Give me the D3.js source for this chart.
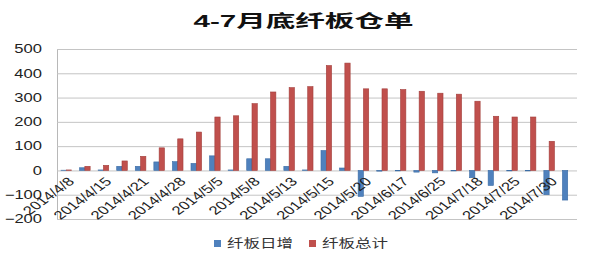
<!DOCTYPE html>
<html>
<head>
<meta charset="utf-8">
<script src="https://cdn.jsdelivr.net/npm/d3@7/dist/d3.min.js"></script>
<style>
  html, body { margin: 0; padding: 0; background: #fff; }
  svg { display: block; }
</style>
</head>
<body>
<div id="chart"></div>
<script>
// 数据
const dates = [
  "2014/4/8", "2014/4/11", "2014/4/15", "2014/4/18", "2014/4/21", "2014/4/24",
  "2014/4/28", "2014/4/30", "2014/5/5", "2014/5/6", "2014/5/8", "2014/5/9",
  "2014/5/13", "2014/5/14", "2014/5/15", "2014/5/16", "2014/5/20", "2014/6/10",
  "2014/6/17", "2014/6/20", "2014/6/25", "2014/7/10", "2014/7/18", "2014/7/22",
  "2014/7/25", "2014/7/28", "2014/7/30", "2014/7/31"
];
const dailyChange = [1, 11, 2, 17, 17, 35, 36, 29, 60, 2, 48, 48, 17, 2, 82, 10,
  -107, -3, -2, -7, -10, -2, -30, -62, -2, -2, -100, -122];
const totalStock = [2, 17, 21, 39, 58, 93, 130, 158, 220, 225, 275, 323, 341, 345,
  432, 442, 336, 336, 333, 326, 318, 314, 285, 223, 220, 220, 120, 0];
const seriesNames = ["纤板日增", "纤板总计"];
const yTicks = [-200, -100, 0, 100, 200, 300, 400, 500];
const title = "4-7月底纤板仓单";

const W = 591, H = 257;
const m = { left: 57, right: 14, top: 49, bottom: 38 };
const colors = ["#4f81bd", "#c0504d"];
const strokes = ["#3b6ca5", "#a23e3b"];
const STRETCH = 1.38; // 原图横向拉伸

const svg = d3.select("#chart").append("svg")
  .attr("width", W).attr("height", H)
  .style("font-family", "'Liberation Sans', Arial, 'Noto Sans CJK SC', sans-serif");

const x0 = d3.scaleBand().domain(dates)
  .range([m.left, W - m.right]).paddingInner(0.43).paddingOuter(0.215);
const x1 = d3.scaleBand().domain(seriesNames).range([0, x0.bandwidth()]).padding(0);
const y = d3.scaleLinear().domain([-200, 500]).range([H - m.bottom, m.top]);

// 网格线 + 纵轴
const gy = svg.append("g")
  .attr("transform", `translate(${m.left},0)`)
  .call(d3.axisLeft(y).tickValues(yTicks).tickSize(-(W - m.left - m.right)).tickPadding(15));
gy.select(".domain").attr("stroke", "#b8b8b8");
gy.selectAll(".tick line").attr("stroke", "#c4c4c4");
gy.selectAll(".tick text")
  .attr("fill", "#222").attr("font-size", 12)
  .each(function () {
    const len = this.getComputedTextLength();
    d3.select(this).attr("textLength", len * STRETCH).attr("lengthAdjust", "spacingAndGlyphs");
  });

// 柱子
const rows = dates.map((d, i) => ({ date: d, vals: [dailyChange[i], totalStock[i]] }));
const groups = svg.append("g").selectAll("g")
  .data(rows).enter().append("g")
  .attr("transform", d => `translate(${x0(d.date)},0)`);

groups.selectAll("rect")
  .data(d => d.vals.map((v, k) => ({ key: seriesNames[k], k, v })))
  .enter().append("rect")
  .attr("x", d => x1(d.key))
  .attr("width", x1.bandwidth())
  .attr("y", d => y(Math.max(0, d.v)))
  .attr("height", d => Math.abs(y(d.v) - y(0)))
  .attr("fill", d => colors[d.k])
  .attr("stroke", d => strokes[d.k])
  .attr("stroke-width", 0.6);

// 横轴标签（隔一个显示）
const gx = svg.append("g")
  .attr("transform", `translate(0,${y(0)})`)
  .call(d3.axisBottom(x0).tickSize(0)
    .tickFormat((d, i) => i % 2 === 0 ? d : ""));
gx.select(".domain").remove();
gx.selectAll(".tick text")
  .attr("fill", "#222").attr("font-size", 12)
  .attr("x", 0).attr("y", 0).attr("dy", "0.35em")
  .attr("text-anchor", "end")
  .attr("transform", `translate(5,9) scale(${STRETCH},1) rotate(-45)`);

// 标题
svg.append("text")
  .attr("x", W / 2 + 8).attr("y", 27)
  .attr("text-anchor", "middle")
  .attr("font-size", 17).attr("font-weight", "bold").attr("fill", "#111")
  .attr("textLength", 220).attr("lengthAdjust", "spacingAndGlyphs")
  .text(title);

// 图例
const legendX = [214, 309];
const legend = svg.append("g").selectAll("g")
  .data(seriesNames).enter().append("g")
  .attr("transform", (d, i) => `translate(${legendX[i]},243)`);
legend.append("rect")
  .attr("x", 0).attr("y", -3).attr("width", 7).attr("height", 7)
  .attr("fill", (d, i) => colors[i]);
legend.append("text")
  .attr("x", 13).attr("y", 0).attr("dy", "0.38em")
  .attr("font-size", 12).attr("fill", "#333")
  .attr("font-family", "'Noto Sans CJK SC', sans-serif")
  .attr("textLength", 66).attr("lengthAdjust", "spacingAndGlyphs")
  .text(d => d);
</script>
</body>
</html>
